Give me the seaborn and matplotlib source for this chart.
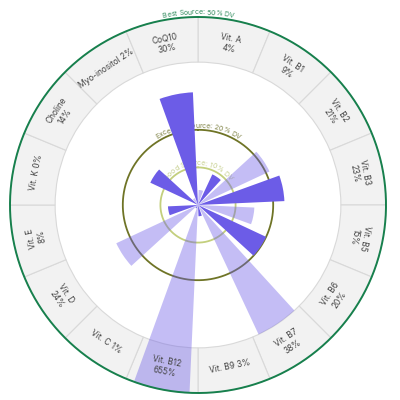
import numpy as np
import pandas as pd
import seaborn as sns
import matplotlib
matplotlib.use("Agg")
import matplotlib.pyplot as plt
from matplotlib.font_manager import FontProperties

# nutrients, clockwise from the top
nutrients = ["Vit. A", "Vit. B1", "Vit. B2", "Vit. B3", "Vit. B5", "Vit. B6",
             "Vit. B7", "Vit. B9", "Vit. B12", "Vit. C", "Vit. D", "Vit. E",
             "Vit. K", "Choline", "Myo-inositol", "CoQ10"]
dv_pct = [4, 9, 21, 23, 15, 20, 38, 3, 655, 1, 24, 8, 0, 14, 2, 30]
one_line = ["Vit. B9", "Vit. C", "Vit. K", "Myo-inositol"]

# reference rings
ring_levels = [10, 20, 50]
ring_names = ["Good Source: 10% DV", "Excellent Source: 20% DV", "Best Source: 50% DV"]
ring_colors = ["#c3cf7d", "#6f7426", "#17804d"]
ring_text_colors = ["#c6cf8e", "#7f8244", "#2f8a5c"]

RMAX = 50
LABEL_IN = 38
PX = 188 / RMAX      # pixels per % DV
n = len(nutrients)
slot = 2 * np.pi / n
theta = (np.arange(n) + 0.5) * slot

sns.set_theme(style="white")
plt.rcParams['font.family'] = ['Inter', 'DejaVu Sans']

fig = plt.figure(figsize=(4, 4), dpi=100)
R = 52 * PX
cx, cy = 198 / 400, (400 - 205) / 400
ax = fig.add_axes([cx - R / 400, cy - R / 400, 2 * R / 400, 2 * R / 400], projection="polar")
ax.set_theta_zero_location("N")
ax.set_theta_direction(-1)
ax.set_ylim(0, 52)
ax.axis("off")

# label ring
ax.bar(theta, RMAX - LABEL_IN, bottom=LABEL_IN, width=slot, color="#f2f2f2",
       edgecolor="#d9d9d9", linewidth=0.8, zorder=1)
n_ring = len(ax.patches)

# guide circles
tt = np.linspace(0, 2 * np.pi, 500)
for lev, col in zip(ring_levels, ring_colors):
    ax.plot(tt, np.full_like(tt, lev), color=col, lw=1.3 if lev < 50 else 1.4,
            zorder=2 if lev < 50 else 5, clip_on=False)

# bars
dark = "#6c5ce7"
shade = ["light" if i % 2 == 0 else "dark" for i in range(n)]
df = pd.DataFrame({"theta": theta, "value": np.minimum(dv_pct, RMAX), "shade": shade})
sns.barplot(data=df, x="theta", y="value", hue="shade", native_scale=True,
            palette={"light": dark, "dark": dark}, width=0.77, saturation=1,
            errorbar=None, legend=False, ax=ax, zorder=3)
for p in ax.patches[n_ring:]:
    xc = p.get_x() + p.get_width() / 2
    i = int(np.argmin(np.abs(theta - xc)))
    p.set_facecolor(matplotlib.colors.to_rgba(dark, 0.4 if i % 2 == 0 else 1.0))
    p.set_edgecolor("none")
    p.set_zorder(3)
ax.set_ylim(0, 52)
ax.axis("off")

# ring labels
for i, name in enumerate(nutrients):
    deg = np.degrees(theta[i])
    rot = -deg
    if 112.5 < deg < 247.5:
        rot += 180
    sep = " " if name in one_line else "\n"
    ax.text(theta[i], 43.8, f"{name}{sep}{dv_pct[i]}%", rotation=rot,
            rotation_mode="anchor", ha="center", va="center", fontsize=6,
            color="#444444", linespacing=1.25, zorder=6)

# curved guide labels
renderer = fig.canvas.get_renderer()


def text_w(s, prop):
    return renderer.get_text_width_height_descent(s + "|", prop, ismath=False)[0] - \
        renderer.get_text_width_height_descent("|", prop, ismath=False)[0]


def curved_text(s, r, color, size, z):
    prop = FontProperties(family=['Inter', 'DejaVu Sans'], size=size)
    lefts = [text_w(s[:k], prop) for k in range(len(s) + 1)]
    W = lefts[-1]
    for k, ch in enumerate(s):
        pos = (lefts[k] + lefts[k + 1]) / 2 - W / 2
        ang = pos / (r * PX)
        ax.text(ang, r, ch, rotation=-np.degrees(ang), rotation_mode="anchor",
                ha="center", va="baseline", fontproperties=prop, color=color,
                zorder=z, clip_on=False)


curved_text(ring_names[0], 10.6, ring_text_colors[0], 5, 2)
curved_text(ring_names[1], 20.6, ring_text_colors[1], 5, 2)
curved_text(ring_names[2], 50.7, ring_text_colors[2], 5, 6)

fig.savefig("out.png", dpi=100, facecolor="white")
